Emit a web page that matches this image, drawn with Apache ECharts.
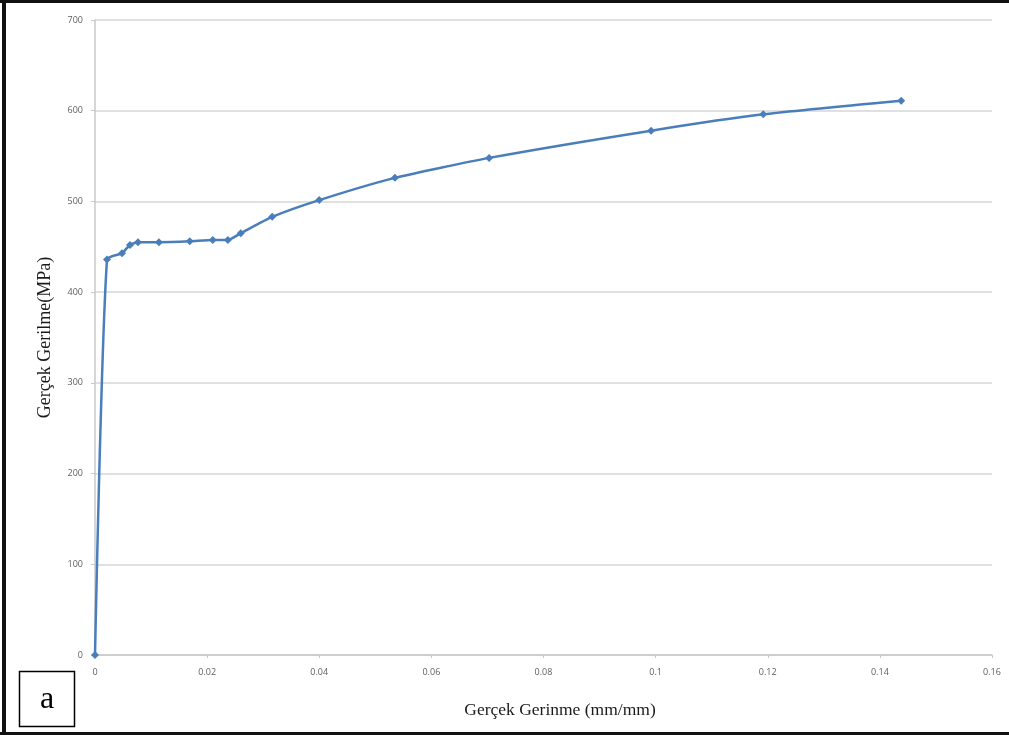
<!DOCTYPE html>
<html>
<head>
<meta charset="utf-8">
<script src="https://cdn.jsdelivr.net/npm/echarts@6/dist/echarts.min.js"></script>
<style>
  html, body { margin: 0; padding: 0; background: #fff; }
  #chart { width: 1009px; height: 735px; }
</style>
</head>
<body>
<div id="chart"></div>
<script>
// True strain (mm/mm) and true stress (MPa) measured points
const strain = [0, 0.00214, 0.00482, 0.00624, 0.00767, 0.0114, 0.0169, 0.0210, 0.0237, 0.0260, 0.0316, 0.0400, 0.0535, 0.0703, 0.0992, 0.1192, 0.1438];
const stress = [0, 436, 443, 452, 455, 455, 456, 457.5, 457.5, 465, 483, 501.5, 526, 548, 578, 596, 611];

const xTicks = [0, 0.02, 0.04, 0.06, 0.08, 0.1, 0.12, 0.14, 0.16];
const yTicks = [0, 100, 200, 300, 400, 500, 600, 700];

const panelLabel = 'a';
const xTitle = 'Gerçek Gerinme (mm/mm)';
const yTitle = 'Gerçek Gerilme(MPa)';

const points = strain.map((s, i) => [s, stress[i]]);

const chart = echarts.init(document.getElementById('chart'), null, { renderer: 'canvas' });

const tickFont = { color: '#5e5e5e', fontSize: 9, fontFamily: 'Open Sans' };

chart.setOption({
  animation: false,
  backgroundColor: '#ffffff',
  grid: { left: 95, right: 17, top: 20, bottom: 80, containLabel: false },
  xAxis: {
    type: 'value',
    min: xTicks[0],
    max: xTicks[xTicks.length - 1],
    interval: 0.02,
    name: xTitle,
    nameLocation: 'middle',
    nameGap: 46,
    nameTextStyle: { fontFamily: 'Liberation Serif', fontSize: 17.5, color: '#1a1a1a', padding: [0, 0, 0, 33] },
    axisLine: { lineStyle: { color: '#c8c8c8', width: 1.5 } },
    axisTick: { show: true, length: 3, lineStyle: { color: '#c8c8c8' } },
    splitLine: { show: false },
    axisLabel: Object.assign({ margin: 13, formatter: v => String(+v.toFixed(2)) }, tickFont)
  },
  yAxis: {
    type: 'value',
    min: yTicks[0],
    max: yTicks[yTicks.length - 1],
    interval: 100,
    name: yTitle,
    nameLocation: 'middle',
    nameGap: 41,
    nameRotate: 90,
    nameTextStyle: { fontFamily: 'Liberation Serif', fontSize: 18, color: '#1a1a1a' },
    axisLine: { show: true, lineStyle: { color: '#c8c8c8', width: 1.5 } },
    axisTick: { show: true, length: 4, lineStyle: { color: '#c8c8c8' } },
    splitLine: { show: true, lineStyle: { color: '#d6d6d6', width: 1.5 } },
    axisLabel: Object.assign({ margin: 12 }, tickFont)
  },
  series: [{
    type: 'line',
    data: points,
    smooth: 0.2,
    symbol: 'diamond',
    symbolSize: 8,
    itemStyle: { color: '#4a7ebb' },
    lineStyle: { color: '#4a7ebb', width: 2.5 }
  }],
  graphic: [
    // outer frame (top, left, bottom)
    { type: 'rect', shape: { x: 0, y: 0, width: 1009, height: 3 }, style: { fill: '#111' } },
    { type: 'rect', shape: { x: 2, y: 0, width: 4, height: 735 }, style: { fill: '#111' } },
    { type: 'rect', shape: { x: 0, y: 732, width: 1009, height: 3 }, style: { fill: '#111' } },
    // panel label box
    { type: 'rect', shape: { x: 19.5, y: 671.5, width: 55, height: 55 }, style: { fill: '#fff', stroke: '#000', lineWidth: 1.5 } },
    { type: 'text', x: 47, y: 700, style: { text: panelLabel, fontFamily: 'Liberation Serif', fontSize: 32, fill: '#000', align: 'center', verticalAlign: 'middle' } }
  ]
});
</script>
</body>
</html>
